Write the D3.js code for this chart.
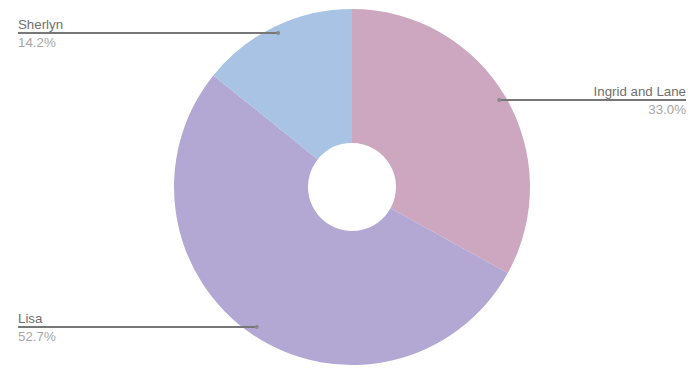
<!DOCTYPE html>
<html>
  <head>
    <meta charset="utf-8">
    <style type="text/css">
      body { margin: 0; background: #fff; font-family: "Liberation Sans", Arial, sans-serif; }
    </style>
    <script src="https://cdn.jsdelivr.net/npm/d3@7"></script>
  </head>
  <body>
    <script>
// data
const names = ['Ingrid and Lane', 'Lisa', 'Sherlyn'];
const shares = [33.0, 52.7, 14.2];
const colors = ['#cda7bf', '#b3a7d4', '#a8c3e4'];

const width = 700, height = 382;
const cx = 352, cy = 187;
const outer = 178, inner = 44;

const svg = d3.select('body').append('svg')
    .attr('width', width)
    .attr('height', height);

const g = svg.append('g').attr('transform', `translate(${cx},${cy})`);

const pie = d3.pie().sort(null).value(d => d.v);
const arcs = pie(names.map((n, i) => ({name: n, v: shares[i], c: colors[i]})));

const arc = d3.arc().innerRadius(inner).outerRadius(outer);
const anchorArc = d3.arc().innerRadius(outer * 0.96).outerRadius(outer * 0.96);

g.selectAll('path.slice')
  .data(arcs)
  .enter().append('path')
    .attr('class', 'slice')
    .attr('d', arc)
    .attr('fill', d => d.data.c);

// leader lines and labels
arcs.forEach(function(d) {
  const p = anchorArc.centroid(d);
  const x = cx + p[0], y = Math.round(cy + p[1]) - (p[1] > 100 ? 2 : 0);
  const right = p[0] > 0;
  const xEnd = right ? 686 : 18;
  svg.append('line')
      .attr('x1', x).attr('y1', y)
      .attr('x2', xEnd).attr('y2', y)
      .style('stroke', '#777')
      .style('stroke-width', 2);
  svg.append('circle')
      .attr('cx', x).attr('cy', y)
      .attr('r', 2)
      .attr('fill', '#888');
  svg.append('text')
      .attr('x', xEnd).attr('y', y - 4.5)
      .attr('text-anchor', right ? 'end' : 'start')
      .attr('font-size', 13.3)
      .attr('fill', '#6f6f6f')
    .text(d.data.name);
  svg.append('text')
      .attr('x', xEnd).attr('y', y + 14)
      .attr('text-anchor', right ? 'end' : 'start')
      .attr('font-size', 13.3)
      .attr('fill', '#a6a6a6')
    .text(d.data.v.toFixed(1) + '%');
});
    </script>
  </body>
</html>
